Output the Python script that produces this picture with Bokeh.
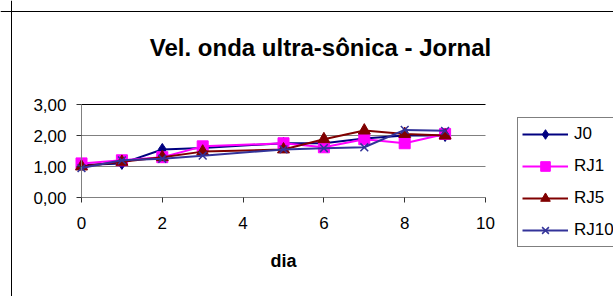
from bokeh.plotting import figure
from bokeh.embed import file_html
from bokeh.resources import INLINE
from bokeh.models import (Legend, LegendItem, FixedTicker, CustomJSTickFormatter,
                          Range1d, Grid, Span, Label)

# ---- data ----
dias = [0, 1, 2, 3, 5, 6, 7, 8, 9]
J0 = [1.05, 1.10, 1.55, 1.60, 1.75, 1.75, 1.90, 2.00, 2.00]
RJ1 = [1.10, 1.20, 1.30, 1.65, 1.75, 1.62, 1.88, 1.75, 2.05]
RJ5 = [1.00, 1.15, 1.30, 1.48, 1.55, 1.88, 2.16, 2.05, 2.00]
RJ10 = [0.95, 1.20, 1.25, 1.35, 1.55, 1.59, 1.62, 2.18, 2.15]
series_names = ["J0", "RJ1", "RJ5", "RJ10"]
x_ticks = [0, 2, 4, 6, 8, 10]
y_ticks = [0, 1, 2, 3]
title_text = "Vel. onda ultra-sônica - Jornal"
x_label = "dia"

FONT = "Liberation Sans"

# ---- layout (pixels) ----
W, H = 613, 296
X0_PX, X10_PX = 81, 485      # x = 0 and x = 10
Y0_PX, Y3_PX = 197, 104      # y = 0 and y = 3
sx = (X10_PX - X0_PX) / 10.0
sy = (Y0_PX - Y3_PX) / 3.0


def dx(px):
    return (px - X0_PX) / sx


def dy(py):
    return (Y0_PX - py) / sy


p = figure(width=W, height=H, output_backend="svg", toolbar_location=None,
           x_range=Range1d(dx(0), dx(W)), y_range=Range1d(dy(H), dy(0)),
           min_border=0, min_border_left=0, min_border_right=0,
           min_border_top=0, min_border_bottom=0)
p.outline_line_color = None
p.background_fill_color = "white"
p.border_fill_color = "white"

# axes at data origin
p.xaxis.ticker = FixedTicker(ticks=x_ticks)
p.xaxis.bounds = (0, 10)
p.xaxis.fixed_location = 0
p.yaxis.ticker = FixedTicker(ticks=y_ticks)
p.yaxis.bounds = (0, 3)
p.yaxis.fixed_location = 0
p.yaxis.formatter = CustomJSTickFormatter(code="return tick.toFixed(2).replace('.', ',');")
for ax in (p.xaxis[0], p.yaxis[0]):
    ax.axis_line_color = "#808080"
    ax.axis_line_width = 1
    ax.major_tick_line_color = "#333333"
    ax.major_tick_out = 5
    ax.major_tick_in = 0
    ax.minor_tick_line_color = None
    ax.major_label_text_font = FONT
    ax.major_label_text_font_size = "17px"
    ax.major_label_text_color = "black"
p.xaxis.major_label_standoff = 14
p.yaxis.major_label_standoff = 10
p.xaxis.axis_label = x_label
p.xaxis.axis_label_text_font = FONT
p.xaxis.axis_label_text_font_size = "18px"
p.xaxis.axis_label_text_font_style = "bold"
p.xaxis.axis_label_text_color = "black"
p.xaxis.axis_label_standoff = 19

# grids (only across the plot area 0..10)
p.xgrid.visible = False
p.ygrid.ticker = FixedTicker(ticks=[1, 2])
p.ygrid.grid_line_color = "#808080"
p.ygrid.bounds = (0, 3)
p.ygrid.cross_bounds = (0, 10)
top_grid = Grid(dimension=1, ticker=FixedTicker(ticks=[3]),
                grid_line_color="black", bounds=(0, 3), cross_bounds=(0, 10))
p.add_layout(top_grid)

# title
p.add_layout(Label(x=dx(320), y=dy(47), text=title_text, text_align="center",
                   text_baseline="alphabetic", text_font=FONT,
                   text_font_size="24px", text_font_style="bold",
                   text_color="black"))

# outer chart box (left and top edges; the rest lies outside the picture)
p.add_layout(Span(location=dx(11), dimension="height", line_color="black", line_width=1))
p.add_layout(Span(location=dy(11), dimension="width", line_color="black", line_width=1))

# series
colors = ["#000080", "#FF00FF", "#800000", "#333399"]
markers = ["diamond", "square", "triangle", "x"]
sizes = [12, 11, 12, 11]
values = [J0, RJ1, RJ5, RJ10]
items = []
for name, vals, c, m, s in zip(series_names, values, colors, markers, sizes):
    ln = p.line(dias, vals, line_color=c, line_width=2)
    if m == "x":
        sc = p.scatter(dias, vals, marker=m, size=s, line_color=c, line_width=1.5)
    else:
        sc = p.scatter(dias, vals, marker=m, size=s, fill_color=c, line_color=c)
    items.append(LegendItem(label=name, renderers=[ln, sc]))

legend = Legend(items=items, location=(517, H - 247), padding=4, spacing=8,
                glyph_width=46, glyph_height=24, label_height=24,
                label_standoff=6, label_text_font=FONT,
                label_text_font_size="17px", label_text_color="black",
                border_line_color="black", border_line_width=1,
                background_fill_color="white", background_fill_alpha=1,
                margin=0)
p.add_layout(legend)

open("out.html", "w").write(file_html(p, INLINE))
